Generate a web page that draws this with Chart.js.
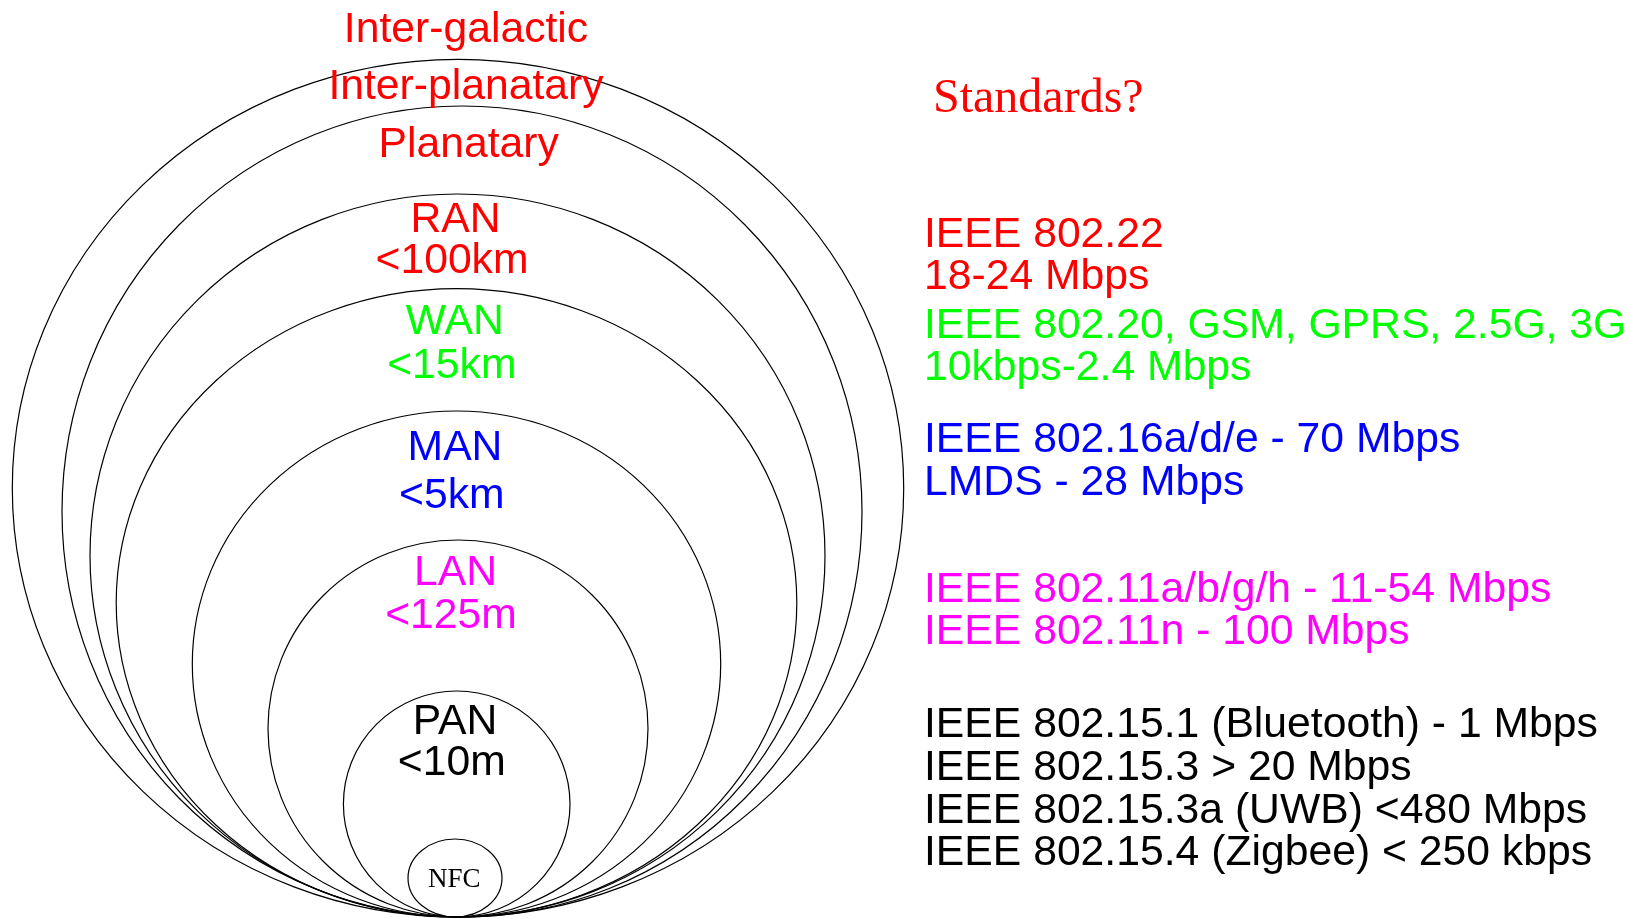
<!DOCTYPE html>
<html>
<head>
<meta charset="utf-8">
<script src="https://cdn.jsdelivr.net/npm/chart.js@4.4.1/dist/chart.umd.min.js"></script>
<style>
  html, body { margin: 0; padding: 0; background: #ffffff; overflow: hidden; }
  canvas { display: block; }
</style>
</head>
<body>
<canvas id="c" width="1630" height="918"></canvas>
<script>
// ---- Data: nested coverage zones (all tangent at the bottom point) ----
const rings = ['Inter-planatary', 'Planatary', 'RAN', 'WAN', 'MAN', 'LAN', 'PAN', 'NFC'];
const ringCenter = [1, 5, 0.5, -0.5, -0.5, 1, -0.3, -2];
const ringHalfWidth = [445.7, 400, 367.5, 340.3, 264.2, 190, 113.3, 47];
const ringHeight = [857.7, 811, 723, 628.3, 506, 377, 226, 78];

// ---- Zone labels ----
const zoneNames = ['Inter-galactic', 'Inter-planatary', 'Planatary', 'RAN', 'WAN', 'MAN', 'LAN', 'PAN', 'NFC'];
const zoneRanges = ['', '', '', '<100km', '<15km', '<5km', '<125m', '<10m', ''];
const zoneColors = ['#ff0000', '#ff0000', '#ff0000', '#ff0000', '#00ff00', '#0000ff', '#ff00ff', '#000000', '#000000'];

// ---- Standards ----
const standardsTitle = 'Standards?';
const standardLines = [
  ['IEEE 802.22', '18-24 Mbps'],
  ['IEEE 802.20, GSM, GPRS, 2.5G, 3G', '10kbps-2.4 Mbps'],
  ['IEEE 802.16a/d/e - 70 Mbps', 'LMDS - 28 Mbps'],
  ['IEEE 802.11a/b/g/h - 11-54 Mbps', 'IEEE 802.11n - 100 Mbps'],
  ['IEEE 802.15.1 (Bluetooth) - 1 Mbps', 'IEEE 802.15.3 > 20 Mbps', 'IEEE 802.15.3a (UWB) <480 Mbps', 'IEEE 802.15.4 (Zigbee) < 250 kbps']
];
const standardColors = ['#ff0000', '#00ff00', '#0000ff', '#ff00ff', '#000000'];

// ---- Layout (axis units) ----
const layout = {
  nameX:  [9, 9, 11.7, -1.5, -2.2, -2, -1.5, -2, -2.7],
  nameY:  [875.3, 818, 759.7, 684.7, 582.7, 457, 332, 183, 30.3],
  rangeX: [0, 0, 0, -5, -5.2, -5.2, -6, -5.3, 0],
  rangeY: [0, 0, 0, 643.7, 539.3, 409.3, 289.3, 142, 0],
  titleX: 476, titleY: 804.7,
  stdX: 467,
  stdY: [670.3, 579.3, 464.7, 315.3, 179.7],
  stdGap: 42.6
};

const SANS = '"Liberation Sans", Arial, Helvetica, sans-serif';
const SERIF = '"Liberation Serif", "Times New Roman", serif';
const SANS_SIZE = '42.7px ';

const diagramPlugin = {
  id: 'diagram',
  afterDraw(chart) {
    const ctx = chart.ctx;
    const xs = chart.scales.x, ys = chart.scales.y;
    ctx.save();
    // ellipses
    ctx.strokeStyle = '#000000';
    ctx.lineWidth = 1.2;
    rings.forEach((r, i) => {
      const cx = xs.getPixelForValue(ringCenter[i]);
      const cy = ys.getPixelForValue(ringHeight[i] / 2);
      const rx = Math.abs(xs.getPixelForValue(ringCenter[i] + ringHalfWidth[i]) - cx);
      const ry = Math.abs(ys.getPixelForValue(0) - cy);
      ctx.beginPath();
      ctx.ellipse(cx, cy, rx, ry, 0, 0, Math.PI * 2);
      ctx.stroke();
    });
    // zone labels
    ctx.textAlign = 'center';
    ctx.textBaseline = 'alphabetic';
    zoneNames.forEach((n, i) => {
      ctx.fillStyle = zoneColors[i];
      ctx.font = (n === 'NFC') ? ('27px ' + SERIF) : (SANS_SIZE + SANS);
      ctx.fillText(n, xs.getPixelForValue(layout.nameX[i]), ys.getPixelForValue(layout.nameY[i]));
      if (zoneRanges[i]) {
        ctx.font = SANS_SIZE + SANS;
        ctx.fillText(zoneRanges[i], xs.getPixelForValue(layout.rangeX[i]), ys.getPixelForValue(layout.rangeY[i]));
      }
    });
    // standards
    ctx.textAlign = 'left';
    ctx.fillStyle = '#ff0000';
    ctx.font = '48px ' + SERIF;
    ctx.fillText(standardsTitle, xs.getPixelForValue(layout.titleX), ys.getPixelForValue(layout.titleY));
    ctx.font = SANS_SIZE + SANS;
    standardLines.forEach((group, g) => {
      ctx.fillStyle = standardColors[g];
      group.forEach((line, k) => {
        ctx.fillText(line, xs.getPixelForValue(layout.stdX), ys.getPixelForValue(layout.stdY[g] - k * layout.stdGap));
      });
    });
    ctx.restore();
  }
};

new Chart(document.getElementById('c'), {
  type: 'scatter',
  data: { datasets: [] },
  options: {
    responsive: false,
    animation: false,
    devicePixelRatio: 1,
    events: [],
    layout: { padding: 0 },
    plugins: { legend: { display: false }, tooltip: { enabled: false } },
    scales: {
      x: { type: 'linear', min: -457, max: 1173, display: false },
      y: { type: 'linear', min: -1, max: 917, display: false }
    }
  },
  plugins: [diagramPlugin]
});
</script>
</body>
</html>
